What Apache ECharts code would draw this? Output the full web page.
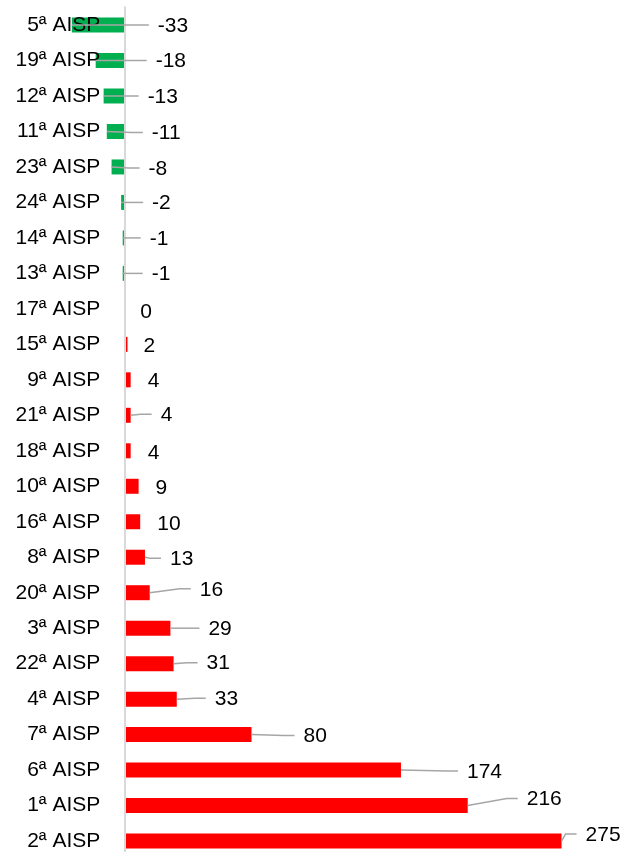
<!DOCTYPE html>
<html>
<head>
<meta charset="utf-8">
<script src="https://cdn.jsdelivr.net/npm/echarts@6/dist/echarts.min.js"></script>
<style>
  html, body { margin: 0; padding: 0; background: #fff; }
  #chart { width: 624px; height: 852px; }
</style>
</head>
<body>
<div id="chart"></div>
<script>
// AISP areas, top to bottom
const categories = [
  '5ª AISP', '19ª AISP', '12ª AISP', '11ª AISP', '23ª AISP', '24ª AISP',
  '14ª AISP', '13ª AISP', '17ª AISP', '15ª AISP', '9ª AISP', '21ª AISP',
  '18ª AISP', '10ª AISP', '16ª AISP', '8ª AISP', '20ª AISP', '3ª AISP',
  '22ª AISP', '4ª AISP', '7ª AISP', '6ª AISP', '1ª AISP', '2ª AISP'
];

// Variation per area
const values = [
  -33, -18, -13, -11, -8, -2,
  -1, -1, 0, 2, 4, 4,
  4, 9, 10, 13, 16, 29,
  31, 33, 80, 174, 216, 275
];

// Label placement relative to the bar end: [dx px to label's left edge, dy px, leader line?]
const labelShift = [
  [86, 0, 1], [60, 0, 1], [44, 0, 1], [45, 1, 1], [37, 1, 1], [31, 0, 1],
  [27, 0, 1], [29, 0, 1], [16, 2, 0], [16, 1, 0], [17, 0, 0], [30, -1, 1],
  [17, 1, 0], [17, 1, 0], [17, 1, 0], [25, 1, 1], [50, -4, 1], [38, 0, 1],
  [33, -1, 1], [38, -1, 1], [52, 1, 1], [66, 1, 1], [59, -7, 1], [24, -7, 1]
];

const FONT = '"Liberation Sans", Arial, sans-serif';
const POS_COLOR = '#ff0000';
const NEG_COLOR = '#00b050';
const LEADER_COLOR = '#a6a6a6';

const chart = echarts.init(document.getElementById('chart'), null, { renderer: 'canvas' });

const option = {
  animation: false,
  backgroundColor: '#ffffff',
  grid: {
    left: 124.3, right: 22.7, top: 7.3, bottom: -6.8,
    containLabel: false,
    outerBoundsMode: 'none'
  },
  xAxis: {
    type: 'value',
    min: 0,
    max: 300,
    show: false
  },
  yAxis: {
    type: 'category',
    inverse: true,
    z: 3,
    data: categories,
    axisLine: { show: true, onZero: false, lineStyle: { color: '#d9d9d9', width: 2 } },
    axisTick: { show: false },
    splitLine: { show: false },
    axisLabel: {
      margin: 24,
      padding: [3, 0, 0, 0],
      fontFamily: FONT,
      fontSize: 21,
      color: '#000000'
    }
  },
  series: [
    {
      type: 'bar',
      barWidth: 15,
      clip: false,
      z: 2,
      data: values.map(v => ({
        value: v,
        itemStyle: { color: v < 0 ? NEG_COLOR : POS_COLOR }
      }))
    },
    {
      // value labels with leader lines
      type: 'custom',
      z: 5,
      clip: false,
      silent: true,
      data: values.map((v, i) => [v, i]),
      encode: { x: 0, y: 1 },
      renderItem: function (params, api) {
        const i = params.dataIndex;
        const v = api.value(0);
        const p = api.coord([v, api.value(1)]);
        const s = labelShift[i];
        const lx = p[0] + s[0];
        const ly = p[1] + s[1];
        const children = [];
        if (s[2]) {
          children.push({
            type: 'polyline',
            shape: { points: [[p[0], p[1]], [lx - 20, ly], [lx - 9, ly]] },
            style: { stroke: LEADER_COLOR, lineWidth: 1.5, fill: null }
          });
        }
        children.push({
          type: 'text',
          style: {
            text: String(v),
            x: lx,
            y: ly + 1,
            align: 'left',
            verticalAlign: 'middle',
            font: '21px ' + FONT,
            fill: '#000000'
          }
        });
        return { type: 'group', children: children };
      }
    }
  ]
};

chart.setOption(option);
</script>
</body>
</html>
